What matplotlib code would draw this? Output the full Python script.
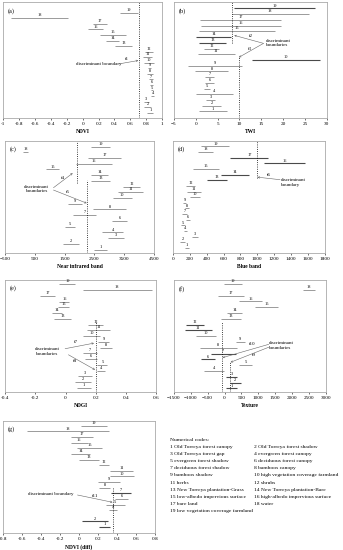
import numpy as np
import matplotlib.pyplot as plt

plt.rcParams['font.family'] = ['Liberation Serif', 'DejaVu Serif']

codes = list(range(1, 20))

# ranges per class (low, high), class 1..19
ndvi_lo = [0.81, 0.77, 0.77, 0.86, 0.86, 0.85, 0.83, 0.81, 0.82, 0.77, 0.76, 0.78, 0.41, 0.29, 0.22, 0.07, 0.13, -0.90, 0.47]
ndvi_hi = [0.89, 0.86, 0.83, 0.90, 0.89, 0.89, 0.88, 0.88, 0.86, 0.90, 0.87, 0.89, 0.62, 0.46, 0.54, 0.26, 0.31, -0.19, 0.69]

twi_lo = [0.7, 1.5, 2.4, 0.0, 2.0, 2.2, 2.2, -0.2, -1.7, 12.9, 0.4, 2.0, 0.7, 0.1, 0.7, 1.3, 1.0, 8.3, 8.85]
twi_hi = [7.2, 5.7, 4.4, 8.5, 3.3, 4.2, 4.1, 7.4, 10.6, 28.4, 8.9, 5.3, 6.9, 8.0, 18.1, 19.4, 19.6, 25.8, 27.2]

nir_lo = [2487, 1457, 2968, 2744, 1525, 3080, 1793, 2464, 1625, 3113, 3303, 3449, 2386, 2397, 876, 1883, 2296, 93, 2375]
nir_hi = [2912, 1972, 3493, 3471, 1838, 3605, 2553, 3560, 2073, 3751, 4142, 4030, 3024, 2968, 1300, 3080, 3381, 272, 3024]

blue_lo = [141, 90, 228, 130, 102, 157, 110, 149, 118, 197, 169, 157, 405, 574, 236, 1085, 680, 299, 338]
blue_hi = [189, 142, 299, 169, 142, 208, 169, 189, 157, 326, 338, 259, 641, 904, 542, 1565, 1132, 480, 668]

ndgi_lo = [0.079, 0.064, 0.086, 0.207, 0.211, 0.130, 0.114, 0.229, 0.218, 0.114, 0.145, 0.147, -0.076, -0.091, -0.047, -0.040, -0.168, 0.114, -0.040]
ndgi_hi = [0.167, 0.167, 0.176, 0.264, 0.278, 0.207, 0.207, 0.309, 0.291, 0.229, 0.295, 0.251, 0.035, -0.022, 0.022, 0.026, -0.069, 0.571, 0.064]

tex_lo = [49, 148, 30, -610, 423, -709, -414, -738, 325, -857, -1172, -1132, -118, 79, 916, 423, -187, 2314, -20]
tex_hi = [374, 492, 374, -20, 817, -286, 325, 374, 600, -266, -384, -610, 473, 502, 1585, 1113, 571, 2688, 502]

dndvi_lo = [0.21, 0.03, np.nan, 0.31, 0.28, 0.38, 0.34, 0.21, 0.20, 0.33, 0.33, 0.21, 0.00, -0.08, -0.02, -0.09, -0.09, -0.55, 0.02]
dndvi_hi = [0.33, 0.30, np.nan, 0.40, 0.48, 0.52, 0.55, 0.33, 0.43, 0.58, 0.57, 0.32, 0.21, 0.12, 0.24, 0.09, 0.15, 0.32, 0.29]

legend_left = ['1 Old Torreya forest canopy', '3 Old Torreya forest gap', '5 evergreen forest shadow',
               '7 deciduous forest shadow', '9 bamboos shadow', '11 herbs',
               '13 New Torreya plantation-Grass', '15 low-albedo impervious surface', '17 bare land',
               '19 low vegetation coverage farmland']
legend_right = ['2 Old Torreya forest shadow', '4 evergreen forest canopy', '6 deciduous forest canopy',
                '8 bamboos canopy', '10 high vegetation coverage farmland', '12 shrubs',
                '14 New Torreya plantation-Bare', '16 high-albedo impervious surface', '18 water']

fig = plt.figure(figsize=(3.43, 5.5), dpi=100)

GRAY = '#8a8a8a'
DARK = '#4a4a4a'


def panel(rect, lo, hi, xlim, step, xlabel, tag, ylim, dark=(), fmt=None):
    ax = fig.add_axes(rect)
    for c, a, b in zip(codes, lo, hi):
        if np.isnan(a):
            continue
        col = DARK if c in dark else GRAY
        ax.plot([a, b], [c, c], color=col, lw=0.8 if c in dark else 0.6, solid_capstyle='butt')
        ax.text((a + b) / 2, c + 0.15, str(c), ha='center', va='bottom', fontsize=3.2)
    ax.set_xlim(*xlim)
    ax.set_ylim(*ylim)
    ticks = np.arange(xlim[0], xlim[1] + step / 2, step)
    ax.set_xticks(ticks)
    if fmt:
        ax.set_xticklabels([fmt(t) for t in ticks])
    ax.set_yticks([])
    ax.tick_params(axis='x', labelsize=3.8, length=1.5, width=0.4, pad=1.5)
    for s in ax.spines.values():
        s.set_color('#aaaaaa')
        s.set_linewidth(0.6)
    ax.set_xlabel(xlabel, fontsize=4, fontweight='bold', labelpad=2)
    ax.text(0.03, 0.95, tag, transform=ax.transAxes, fontsize=4.5, va='top')
    return ax


def arrow(ax, xy, xytext):
    ax.annotate('', xy=xy, xytext=xytext,
                arrowprops=dict(arrowstyle='->', color='#666666', lw=0.4, shrinkA=0, shrinkB=0,
                                mutation_scale=3))


def dec(t):
    t = round(t, 1)
    if t == 0:
        return '0'
    if t == int(t):
        return str(int(t))
    return f'{t:g}'


# (a)
ax = panel([0.009, 0.785, 0.464, 0.211], ndvi_lo, ndvi_hi, (-1, 1), 0.2, 'NDVI', '(a)', (0.0, 20.9), fmt=dec)
ax.plot([0.71, 0.71], [0.0, 20.9], ls=':', color='k', lw=0.6)
ax.text(0.2, 9.8, 'discriminant boundary', fontsize=3.6, ha='center', va='center')
ax.text(0.55, 10.7, 't1', fontsize=3.6, ha='center', va='center')
arrow(ax, (0.70, 10.4), (0.46, 9.8))

# (b)
ax = panel([0.507, 0.785, 0.446, 0.211], twi_lo, twi_hi, (-5, 30), 5, 'TWI', '(b)', (-0.2, 20.1),
           dark=(19, 14, 13, 10))
ax.plot([8.3, 8.3], [12.9, 20.1], ls=':', color='k', lw=0.6)
ax.plot([9.85, 9.85], [-0.2, 10.7], ls=':', color='k', lw=0.6)
ax.text(16.0, 13.0, 'discriminant\nboundaries', fontsize=3.6, ha='left', va='center', linespacing=1.1)
ax.text(12.7, 14.2, 't2', fontsize=3.6, ha='center', va='center')
ax.text(12.4, 12.0, 't3', fontsize=3.6, ha='center', va='center')
arrow(ax, (8.8, 14.3), (15.5, 12.9))
arrow(ax, (9.85, 10.45), (15.5, 12.9))

# (c)
ax = panel([0.015, 0.540, 0.434, 0.204], nir_lo, nir_hi, (-500, 4500), 1000, 'Near infrared band', '(c)',
           (0.4, 20.0))
ax.plot([1905, 1905], [12.6, 20.0], ls=':', color='k', lw=0.6)
ax.plot([2240, 2240], [0.4, 13.2], ls=':', color='k', lw=0.6)
ax.text(560, 11.6, 'discriminant\nboundaries', fontsize=3.6, ha='center', va='center', linespacing=1.1)
ax.text(1435, 13.5, 't4', fontsize=3.6, ha='center', va='center')
ax.text(1625, 11.0, 't5', fontsize=3.6, ha='center', va='center')
arrow(ax, (1770, 14.35), (1122, 11.8))
arrow(ax, (2240, 9.1), (1122, 11.4))

# (d)
ax = panel([0.504, 0.540, 0.443, 0.204], blue_lo, blue_hi, (0, 1800), 200, 'Blue band', '(d)',
           (0.1, 20.0), dark=(17, 16, 14, 13))
ax.plot([995, 995], [13.4, 20.0], ls=':', color='k', lw=0.6)
ax.text(1280, 12.6, 'discriminant\nboundary', fontsize=3.6, ha='left', va='center', linespacing=1.1)
ax.text(1132, 14.0, 't6', fontsize=3.6, ha='center', va='center')
arrow(ax, (1002, 13.55), (1270, 13.1))

# (e)
ax = panel([0.015, 0.287, 0.440, 0.204], ndgi_lo, ndgi_hi, (-0.4, 0.6), 0.2, 'NDGI', '(e)',
           (0.25, 19.75), fmt=dec)
ax.plot([0.2, 0.2], [0.25, 12.5], ls=':', color='k', lw=0.6)
ax.text(-0.12, 7.3, 'discriminant\nboundaries', fontsize=3.6, ha='center', va='center', linespacing=1.1)
ax.text(0.07, 8.9, 't7', fontsize=3.6, ha='center', va='center')
ax.text(0.064, 5.6, 't8', fontsize=3.6, ha='center', va='center')
arrow(ax, (0.189, 8.77), (-0.003, 7.8))
arrow(ax, (0.196, 4.14), (0.019, 6.75))

# (f)
ax = panel([0.507, 0.287, 0.443, 0.204], tex_lo, tex_hi, (-1500, 3000), 500, 'Texture', '(f)',
           (0.35, 19.7), dark=(12, 11, 7, 6, 3, 2, 1))
ax.plot([-89, -89], [0.35, 12.5], ls=':', color='k', lw=0.6)
ax.plot([158, 158], [0.35, 5.5], ls=':', color='k', lw=0.6)
ax.text(1320, 8.4, 'discriminant\nboundaries', fontsize=3.6, ha='left', va='center', linespacing=1.1)
ax.text(817, 8.6, 't10', fontsize=3.6, ha='center', va='center')
ax.text(866, 6.7, 't9', fontsize=3.6, ha='center', va='center')
arrow(ax, (-60, 6.3), (1310, 8.6))
arrow(ax, (177, 5.5), (1310, 8.1))

# (g)
ax = panel([0.009, 0.031, 0.443, 0.204], dndvi_lo, dndvi_hi, (-0.8, 0.8), 0.2, 'NDVI (diff)', '(g)',
           (-0.05, 19.9), dark=(7, 2, 1), fmt=dec)
ax.plot([0.36, 0.36], [-0.05, 8.2], ls=':', color='k', lw=0.6)
ax.text(-0.30, 6.9, 'discriminant boundary', fontsize=3.6, ha='center', va='center')
ax.text(0.17, 6.5, 't11', fontsize=3.6, ha='center', va='center')
arrow(ax, (0.353, 5.4), (-0.017, 6.7))

# legend of numerical codes
LFS = 3.95
fig.text(170 / 343, 1 - 440 / 550, 'Numerical codes:', fontsize=LFS, va='center')
for i, s in enumerate(legend_left):
    fig.text(170 / 343, 1 - (447 + 7.1 * i) / 550, s, fontsize=LFS, va='center')
for i, s in enumerate(legend_right):
    fig.text(254 / 343, 1 - (447 + 7.1 * i) / 550, s, fontsize=LFS, va='center')

fig.savefig('out.png', dpi=100)
